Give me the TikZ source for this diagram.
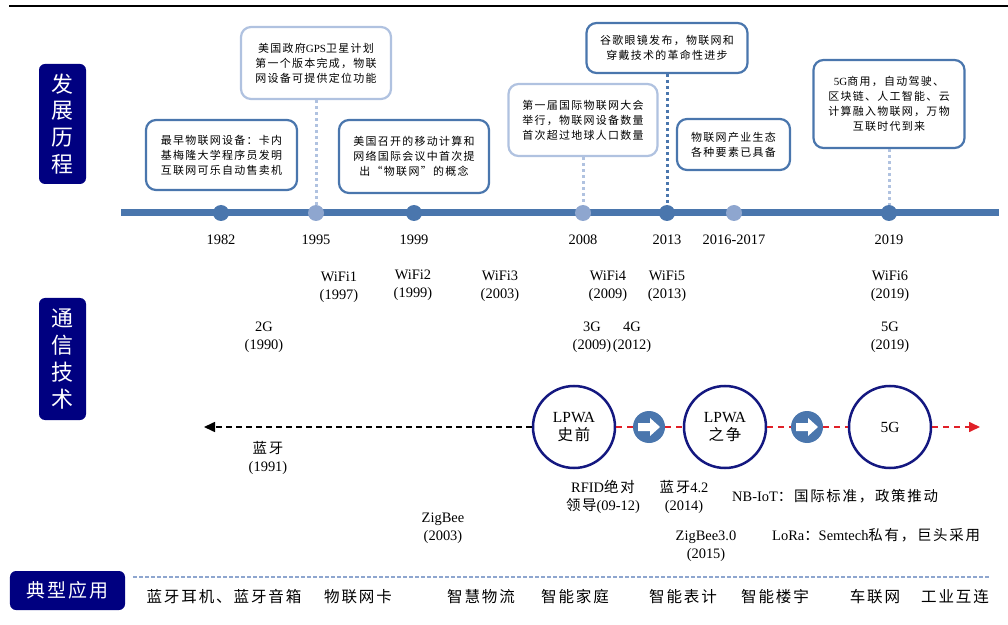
\documentclass[tikz,border=0pt]{standalone}
\usepackage{fontspec}
\setmainfont{Liberation Serif}
\newfontfamily\cjk[LetterSpace=12]{Noto Sans CJK SC}
\usetikzlibrary{arrows.meta}
\definecolor{cNavy}{RGB}{0,0,128}
\definecolor{cDark}{RGB}{74,118,173}
\definecolor{cLight}{RGB}{142,166,207}
\definecolor{cBoxLight}{RGB}{176,194,224}
\definecolor{cCirc}{RGB}{20,24,128}
\definecolor{cRed}{RGB}{224,32,40}
\tikzset{
  evbox/.style={fill=white, line width=2.2bp, rounded corners=10bp, align=center, inner sep=0pt,
    font=\cjk\fontsize{11}{15}\selectfont},
  darkbox/.style={evbox, draw=cDark},
  lightbox/.style={evbox, draw=cBoxLight},
  ddot/.style={circle, fill=cDark, minimum size=16bp, inner sep=0pt},
  ldot/.style={circle, fill=cLight, minimum size=16bp, inner sep=0pt},
  darkconn/.style={draw=cDark, line width=3bp, dash pattern=on 3bp off 3bp},
  lightconn/.style={draw=cBoxLight, line width=3bp, dash pattern=on 3bp off 3bp},
  sidebox/.style={fill=cNavy, rounded corners=6bp, text=white, align=center, inner sep=0pt},
  yr/.style={font=\fontsize{14.5}{18}\selectfont, inner sep=0pt},
  lbl/.style={font=\fontsize{14.5}{18.5}\selectfont, align=center, inner sep=0pt},
  lbll/.style={font=\fontsize{14.5}{18.5}\selectfont, anchor=west, inner sep=0pt},
  bigc/.style={circle, draw=cCirc, line width=2.5bp, minimum size=82bp, inner sep=0pt, align=center,
    font=\fontsize{15.5}{19}\selectfont},
  arrc/.style={circle, fill=cDark, minimum size=32bp, inner sep=0pt},
  reddash/.style={draw=cRed, line width=1.6bp, dash pattern=on 6bp off 5bp},
  blkdash/.style={draw=black, line width=1.6bp, dash pattern=on 6bp off 4bp},
  app/.style={font=\cjk\fontsize{15.6}{18}\selectfont, inner sep=0pt},
}
\begin{document}
\begin{tikzpicture}[x=1bp,y=-1bp]
\useasboundingbox (0,0) rectangle (1008,625);
% top rule
\coordinate (r1) at (9,6);
\coordinate (r2) at (1008,6);
\draw[line width=2.5bp] (r1) -- (r2);

% side labels
\node[sidebox, minimum width=47bp, minimum height=120bp, font=\cjk\fontsize{22}{27}\selectfont] (s1) at (62.5,124) {发\\展\\历\\程};
\node[sidebox, minimum width=47bp, minimum height=122bp, font=\cjk\fontsize{22}{27}\selectfont] (s2) at (62.5,359) {通\\信\\技\\术};
\node[sidebox, minimum width=115bp, minimum height=39bp, font=\cjk\fontsize{19}{22}\selectfont] (s3) at (67.5,590.5) {典型应用};

% timeline
\coordinate (t1) at (121,213);
\coordinate (t2) at (999,213);
\draw[cDark, line width=7bp] (t1) -- (t2);
\node[ddot] (d1) at (221,213) {};
\node[ldot] (d2) at (316,213) {};
\node[ddot] (d3) at (414,213) {};
\node[ldot] (d4) at (583,213) {};
\node[ddot] (d5) at (667,213) {};
\node[ldot] (d6) at (734,213) {};
\node[ddot] (d7) at (889,213) {};

% years
\node[yr] (y1) at (221,240) {1982};
\node[yr] (y2) at (316,240) {1995};
\node[yr] (y3) at (414,240) {1999};
\node[yr] (y4) at (583,240) {2008};
\node[yr] (y5) at (667,240) {2013};
\node[yr] (y6) at (734,240) {2016-2017};
\node[yr] (y7) at (889,240) {2019};

% event boxes
\node[darkbox, minimum width=151bp, minimum height=70bp] (b1) at (221.5,155) {最早物联网设备：卡内\\基梅隆大学程序员发明\\互联网可乐自动售卖机};
\node[lightbox, minimum width=150bp, minimum height=72bp] (b2) at (316,63) {美国政府{\rmfamily GPS}卫星计划\\第一个版本完成，物联\\网设备可提供定位功能};
\node[darkbox, minimum width=150bp, minimum height=73bp] (b3) at (414,156.5) {美国召开的移动计算和\\网络国际会议中首次提\\出“物联网”的概念};
\node[lightbox, minimum width=149bp, minimum height=72bp] (b4) at (583,120) {第一届国际物联网大会\\举行，物联网设备数量\\首次超过地球人口数量};
\node[darkbox, minimum width=161bp, minimum height=50bp] (b5) at (667,48) {谷歌眼镜发布，物联网和\\穿戴技术的革命性进步};
\node[darkbox, minimum width=113bp, minimum height=51bp] (b6) at (733.5,144.5) {物联网产业生态\\各种要素已具备};
\node[darkbox, minimum width=151bp, minimum height=88bp] (b7) at (889,104) {{\rmfamily 5G}商用，自动驾驶、\\区块链、人工智能、云\\计算融入物联网，万物\\互联时代到来};

\draw[lightconn] (b2.south) -- (d2);
\draw[lightconn] (b4.south) -- (d4);
\draw[darkconn] (b5.south) -- (d5);
\draw[lightconn] (b7.south) -- (d7);

% communication technologies
\node[lbl] (w1) at (339,287) {WiFi1\\(1997)};
\node[lbl] (w2) at (413,285) {WiFi2\\(1999)};
\node[lbl] (w3) at (500,286) {WiFi3\\(2003)};
\node[lbl] (w4) at (608,286) {WiFi4\\(2009)};
\node[lbl] (w5) at (667,286) {WiFi5\\(2013)};
\node[lbl] (w6) at (890,286) {WiFi6\\(2019)};
\node[lbl] (g2) at (264,337) {2G\\(1990)};
\node[lbl] (g3) at (592,337) {3G\\(2009)};
\node[lbl] (g4) at (632,337) {4G\\(2012)};
\node[lbl] (g5) at (890,337) {5G\\(2019)};

% LPWA row
\node[bigc] (c1) at (574,427) {LPWA\\{\cjk 史前}};
\node[arrc] (a1) at (649,427) {};
\node[bigc] (c2) at (725,427) {LPWA\\{\cjk 之争}};
\node[arrc] (a2) at (807,427) {};
\node[bigc] (c3) at (890,427) {5G};
\coordinate (bl) at (204,427);
\coordinate (re) at (980,427);
\draw[blkdash, -{Triangle[length=11bp,width=10bp]}] (c1.west) -- (bl);
\draw[reddash] (c1.east) -- (a1.west);
\draw[reddash] (a1.east) -- (c2.west);
\draw[reddash] (c2.east) -- (a2.west);
\draw[reddash] (a2.east) -- (c3.west);
\draw[reddash, -{Triangle[length=11bp,width=10bp]}] (c3.east) -- (re);
\foreach \a in {a1,a2}{
  \fill[white] ([shift={(-11,-4)}]\a.center) -- ++(12,0) -- ++(0,-5) -- ++(10,9) -- ++(-10,9) -- ++(0,-5) -- ++(-12,0) -- cycle;
}

% labels in LPWA area
\node[lbl] (bt) at (268,458) {{\cjk 蓝牙}\\(1991)};
\node[lbl] (zb) at (443,528) {ZigBee\\(2003)};
\node[lbl] (rf) at (603,497) {RFID{\cjk 绝对}\\{\cjk 领导}(09-12)};
\node[lbl] (bt2) at (684,497) {{\cjk 蓝牙}4.2\\(2014)};
\node[lbl] (zb3) at (706,546) {ZigBee3.0\\(2015)};
\node[lbll] (nb) at (732,496) {NB-IoT{\cjk ：国际标准，政策推动}};
\node[lbll] (lr) at (772,535) {LoRa{\cjk ：}Semtech{\cjk 私有，巨头采用}};

% applications
\coordinate (p1) at (133,577);
\coordinate (p2) at (990,577);
\draw[cLight, line width=2.5bp, dash pattern=on 4bp off 2bp] (p1) -- (p2);
\node[app] (ap1) at (224,597) {蓝牙耳机、蓝牙音箱};
\node[app] (ap2) at (358,597) {物联网卡};
\node[app] (ap3) at (481,597) {智慧物流};
\node[app] (ap4) at (575,597) {智能家庭};
\node[app] (ap5) at (683,597) {智能表计};
\node[app] (ap6) at (775,597) {智能楼宇};
\node[app] (ap7) at (875,597) {车联网};
\node[app] (ap8) at (955,597) {工业互连};
\end{tikzpicture}
\end{document}
